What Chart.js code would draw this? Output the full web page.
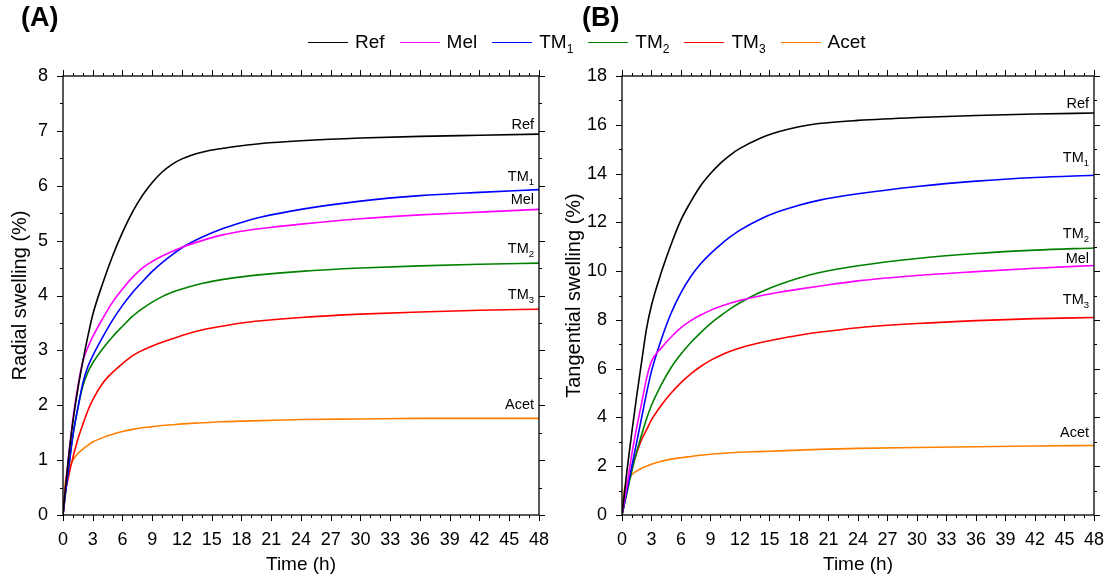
<!DOCTYPE html>
<html>
<head>
<meta charset="utf-8">
<script src="https://cdn.jsdelivr.net/npm/chart.js@4.4.1/dist/chart.umd.min.js"></script>
<style>
  html, body { margin: 0; padding: 0; background: #fff; }
  body { width: 1110px; height: 581px; position: relative; overflow: hidden; font-family: Arial, "Liberation Sans", sans-serif; }
  .wrap { position: absolute; top: 0; width: 555px; height: 581px; }
  #wa { left: 0; }
  #wb { left: 555px; }
  .panel { position: absolute; top: 2px; font-weight: bold; font-size: 27px; color: #000; }
  #legend { position: absolute; top: 31px; left: 308px; display: flex; align-items: center; font-size: 19px; color: #000; white-space: nowrap; }
  .li { display: flex; align-items: center; margin-right: 15px; }
  .sw { width: 40px; height: 0; border-top: 1.5px solid; margin-right: 7px; }
  sub { font-size: 12px; vertical-align: -5px; line-height: 0; }
</style>
</head>
<body>
<div class="wrap" id="wa"><canvas id="ca" width="555" height="581"></canvas></div>
<div class="wrap" id="wb"><canvas id="cb" width="555" height="581"></canvas></div>
<div class="panel" style="left:21px">(A)</div>
<div class="panel" style="left:582px">(B)</div>
<div id="legend"></div>
<script>
// ---- data ----
const TIME = [0, 0.25, 0.5, 1, 1.5, 2, 2.5, 3, 4, 5, 6, 7, 8, 9, 10, 11, 12, 14, 16, 18, 20, 24, 30, 36, 42, 48];

const SERIES_NAMES = ['Ref', 'Mel', 'TM1', 'TM2', 'TM3', 'Acet'];
const LABEL_MAIN = ['Ref', 'Mel', 'TM', 'TM', 'TM', 'Acet'];
const LABEL_SUB  = ['', '', '1', '2', '3', ''];
const COLORS = ['#000000', '#ff00ff', '#0000ff', '#008000', '#ff0000', '#ff8000'];

// (A) Radial swelling (%)
const RAD_REF  = [0, 0.5, 0.95, 1.7, 2.3, 2.8, 3.25, 3.65, 4.22, 4.72, 5.15, 5.52, 5.82, 6.06, 6.25, 6.39, 6.49, 6.61, 6.68, 6.73, 6.77, 6.82, 6.87, 6.9, 6.92, 6.94];
const RAD_MEL  = [0, 0.5, 0.95, 1.75, 2.35, 2.8, 3.05, 3.25, 3.58, 3.88, 4.12, 4.33, 4.5, 4.62, 4.72, 4.8, 4.88, 5.0, 5.1, 5.17, 5.22, 5.3, 5.4, 5.47, 5.52, 5.57];
const RAD_TM1  = [0, 0.4, 0.75, 1.45, 1.95, 2.4, 2.7, 2.9, 3.24, 3.55, 3.82, 4.05, 4.25, 4.44, 4.6, 4.74, 4.87, 5.06, 5.21, 5.33, 5.43, 5.57, 5.72, 5.82, 5.88, 5.93];
const RAD_TM2  = [0, 0.4, 0.75, 1.45, 1.95, 2.35, 2.6, 2.77, 3.03, 3.25, 3.44, 3.62, 3.76, 3.88, 3.98, 4.06, 4.12, 4.22, 4.29, 4.34, 4.38, 4.44, 4.5, 4.54, 4.57, 4.59];
const RAD_TM3  = [0, 0.42, 0.65, 1.05, 1.38, 1.65, 1.9, 2.1, 2.4, 2.6, 2.76, 2.9, 3.0, 3.08, 3.15, 3.21, 3.27, 3.37, 3.44, 3.5, 3.54, 3.6, 3.66, 3.7, 3.73, 3.75];
const RAD_ACET = [0, 0.62, 0.8, 1.0, 1.12, 1.2, 1.27, 1.33, 1.41, 1.47, 1.52, 1.56, 1.59, 1.61, 1.63, 1.645, 1.66, 1.68, 1.7, 1.71, 1.72, 1.74, 1.75, 1.76, 1.76, 1.76];

// (B) Tangential swelling (%)
const TAN_REF  = [0, 0.9, 1.8, 3.4, 4.9, 6.3, 7.65, 8.6, 9.95, 11.1, 12.1, 12.85, 13.5, 14.0, 14.42, 14.76, 15.03, 15.44, 15.72, 15.92, 16.05, 16.18, 16.3, 16.38, 16.44, 16.48];
const TAN_MEL  = [0, 0.6, 1.2, 2.5, 3.6, 4.6, 5.6, 6.3, 6.85, 7.3, 7.68, 7.97, 8.2, 8.39, 8.55, 8.68, 8.8, 8.98, 9.13, 9.26, 9.38, 9.6, 9.82, 9.98, 10.12, 10.23];
const TAN_TM1  = [0, 0.5, 1.0, 2.0, 3.0, 4.0, 5.0, 5.9, 7.2, 8.28, 9.12, 9.78, 10.3, 10.72, 11.08, 11.4, 11.68, 12.12, 12.45, 12.7, 12.9, 13.17, 13.47, 13.69, 13.84, 13.93];
const TAN_TM2  = [0, 0.45, 0.9, 1.8, 2.6, 3.3, 3.95, 4.5, 5.35, 6.05, 6.6, 7.07, 7.48, 7.85, 8.16, 8.45, 8.7, 9.12, 9.45, 9.72, 9.93, 10.22, 10.52, 10.72, 10.86, 10.95];
const TAN_TM3  = [0, 0.5, 1.0, 1.9, 2.55, 3.1, 3.5, 3.9, 4.5, 5.0, 5.43, 5.79, 6.09, 6.34, 6.54, 6.71, 6.85, 7.06, 7.23, 7.37, 7.49, 7.68, 7.85, 7.97, 8.05, 8.1];
const TAN_ACET = [0, 1.05, 1.3, 1.65, 1.8, 1.92, 2.0, 2.08, 2.2, 2.29, 2.35, 2.4, 2.45, 2.49, 2.52, 2.55, 2.57, 2.6, 2.63, 2.66, 2.69, 2.73, 2.77, 2.8, 2.83, 2.85];

const X_MIN = 0, X_MAX = 48, X_STEP = 3, X_MINOR = 1;
const A_YMAX = 8, A_YSTEP = 1, A_YMINOR = 0.5;
const B_YMAX = 18, B_YSTEP = 2, B_YMINOR = 1;
const X_TITLE = 'Time (h)';
const A_YTITLE = 'Radial swelling (%)';
const B_YTITLE = 'Tangential swelling (%)';

// ---- legend ----
const lg = document.getElementById('legend');
SERIES_NAMES.forEach((n, i) => {
  const d = document.createElement('div'); d.className = 'li';
  const s = document.createElement('span'); s.className = 'sw'; s.style.borderColor = COLORS[i];
  const t = document.createElement('span');
  t.innerHTML = LABEL_MAIN[i] + (LABEL_SUB[i] ? '<sub>' + LABEL_SUB[i] + '</sub>' : '');
  d.appendChild(s); d.appendChild(t); lg.appendChild(d);
});

const FONT = "Arial, 'Liberation Sans', sans-serif";

const framePlugin = {
  id: 'frame',
  afterDraw(chart, args, opts) {
    const ctx = chart.ctx, a = chart.chartArea, xs = chart.scales.x, ys = chart.scales.y;
    ctx.save();
    ctx.strokeStyle = '#000'; ctx.lineWidth = 1.3;
    ctx.strokeRect(a.left, a.top, a.right - a.left, a.bottom - a.top);
    ctx.lineWidth = 1;
    ctx.beginPath();
    for (let v = X_MIN; v <= X_MAX + 1e-9; v += X_MINOR) {
      const p = Math.round(xs.getPixelForValue(v)) + 0.5;
      const len = (Math.abs(v / X_STEP - Math.round(v / X_STEP)) < 1e-6) ? 6 : 3;
      ctx.moveTo(p, a.bottom); ctx.lineTo(p, a.bottom + len);
      ctx.moveTo(p, a.top); ctx.lineTo(p, a.top - len);
    }
    for (let v = 0; v <= opts.ymax + 1e-9; v += opts.yminor) {
      const p = Math.round(ys.getPixelForValue(v)) + 0.5;
      const len = (Math.abs(v / opts.ystep - Math.round(v / opts.ystep)) < 1e-6) ? 6 : 3;
      ctx.moveTo(a.left, p); ctx.lineTo(a.left - len, p);
      ctx.moveTo(a.right, p); ctx.lineTo(a.right + len, p);
    }
    ctx.stroke();
    // end-of-curve labels
    chart.data.datasets.forEach((ds, i) => {
      const meta = chart.getDatasetMeta(i);
      const last = meta.data[meta.data.length - 1];
      const off = opts.offsets[i];
      const yb = last.y - off;
      const xr = a.right - 5;
      ctx.fillStyle = '#000';
      ctx.textBaseline = 'alphabetic';
      ctx.textAlign = 'right';
      let subW = 0;
      if (LABEL_SUB[i]) {
        ctx.font = '9.5px ' + FONT;
        subW = ctx.measureText(LABEL_SUB[i]).width;
        ctx.fillText(LABEL_SUB[i], xr, yb + 4);
      }
      ctx.font = '14.5px ' + FONT;
      ctx.fillText(LABEL_MAIN[i], xr - subW, yb);
    });
    ctx.restore();
  }
};

function makeChart(id, series, ymax, ystep, yminor, ytitle, yWidth, padRight, titlePad, offsets) {
  const datasets = series.map((vals, i) => ({
    label: SERIES_NAMES[i],
    data: TIME.map((t, k) => ({ x: t, y: vals[k] })),
    borderColor: COLORS[i],
    borderWidth: 1.6,
    pointRadius: 0,
    fill: false,
    cubicInterpolationMode: 'monotone'
  }));
  return new Chart(document.getElementById(id), {
    type: 'line',
    data: { datasets },
    plugins: [framePlugin],
    options: {
      responsive: false,
      animation: false,
      events: [],
      layout: { padding: { top: 76, right: padRight, bottom: 0, left: 0 } },
      plugins: {
        legend: { display: false },
        tooltip: { enabled: false },
        frame: { ymax, ystep, yminor, offsets }
      },
      scales: {
        x: {
          type: 'linear', min: X_MIN, max: X_MAX,
          grid: { display: false }, border: { display: false },
          ticks: { stepSize: X_STEP, color: '#000', font: { size: 18, family: FONT }, padding: 6, maxRotation: 0, autoSkip: false },
          title: { display: true, text: X_TITLE, color: '#000', font: { size: 19, family: FONT }, padding: { top: 4, bottom: 5 } },
          afterFit(s) { s.height = 66; }
        },
        y: {
          type: 'linear', min: 0, max: ymax,
          grid: { display: false }, border: { display: false },
          ticks: { stepSize: ystep, color: '#000', font: { size: 18, family: FONT }, padding: 7 },
          title: { display: true, text: ytitle, color: '#000', font: { size: 20, family: FONT }, padding: { top: titlePad, bottom: 4 } },
          afterFit(s) { s.width = yWidth; }
        }
      }
    }
  });
}

makeChart('ca', [RAD_REF, RAD_MEL, RAD_TM1, RAD_TM2, RAD_TM3, RAD_ACET], A_YMAX, A_YSTEP, A_YMINOR, A_YTITLE, 63, 14, 8,
  [5, 5, 9, 10, 10, 9]);
makeChart('cb', [TAN_REF, TAN_MEL, TAN_TM1, TAN_TM2, TAN_TM3, TAN_ACET], B_YMAX, B_YSTEP, B_YMINOR, B_YTITLE, 67, 9, 7,
  [5, 3, 13, 10, 13, 8]);
</script>
</body>
</html>
